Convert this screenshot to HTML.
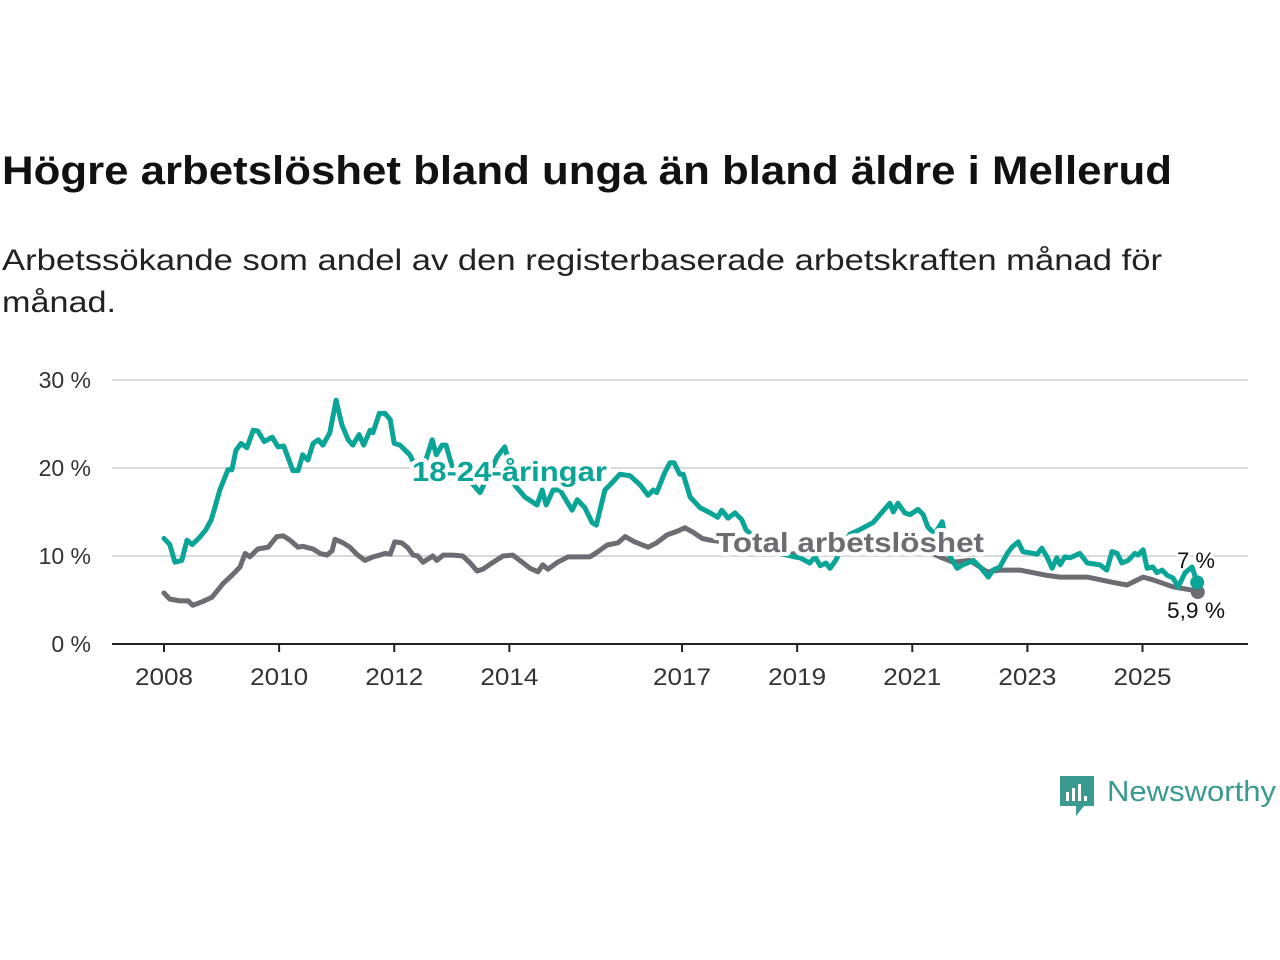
<!DOCTYPE html>
<html><head><meta charset="utf-8"><style>
html,body{margin:0;padding:0;background:#fff;width:1280px;height:960px;overflow:hidden}
svg{display:block}
text{font-family:"Liberation Sans","DejaVu Sans",sans-serif}
</style></head><body>
<svg id="chart" width="1280" height="960" viewBox="0 0 1280 960" xmlns="http://www.w3.org/2000/svg">
<text x="2" y="184" font-size="40" font-weight="bold" fill="#111" textLength="1170" lengthAdjust="spacingAndGlyphs">Högre arbetslöshet bland unga än bland äldre i Mellerud</text>
<text x="2" y="270" font-size="30" fill="#222" textLength="1160" lengthAdjust="spacingAndGlyphs">Arbetssökande som andel av den registerbaserade arbetskraften månad för</text>
<text x="2" y="312" font-size="30" fill="#222" textLength="114" lengthAdjust="spacingAndGlyphs">månad.</text>
<g id="grid"></g><g id="xaxis"></g><g id="series"></g><g id="labels"></g>
<g>
<path d="M1060 776 h34 v30 h-10 l-8 10 v-10 h-16 z" fill="#3a9a90"/>
<rect x="1066" y="792" width="3" height="9" fill="#fff"/><rect x="1072" y="788" width="3" height="13" fill="#fff"/><rect x="1078" y="784" width="3" height="17" fill="#fff"/><rect x="1084" y="796" width="3" height="5" fill="#fff"/>
<text x="1107" y="801" font-size="29" fill="#3a9a90" textLength="169" lengthAdjust="spacingAndGlyphs">Newsworthy</text>
</g>
</svg>
<script>
const yTicks=[0,10,20,30];
const yTickLabels=["0 %","10 %","20 %","30 %"];
const xTicks=[2008,2010,2012,2014,2017,2019,2021,2023,2025];
const youthDates=[2008.00,2008.10,2008.19,2008.31,2008.40,2008.49,2008.63,2008.73,2008.82,2008.87,2008.97,2009.11,2009.18,2009.25,2009.34,2009.44,2009.55,2009.63,2009.74,2009.88,2009.98,2010.08,2010.24,2010.33,2010.41,2010.50,2010.59,2010.68,2010.76,2010.88,2010.99,2011.09,2011.20,2011.28,2011.39,2011.47,2011.58,2011.63,2011.74,2011.84,2011.93,2012.00,2012.10,2012.27,2012.36,2012.53,2012.66,2012.73,2012.83,2012.90,2013.00,2013.19,2013.49,2013.66,2013.79,2013.92,2014.10,2014.27,2014.48,2014.57,2014.64,2014.76,2014.88,2014.98,2015.09,2015.18,2015.31,2015.44,2015.51,2015.66,2015.78,2015.92,2016.10,2016.27,2016.41,2016.50,2016.56,2016.70,2016.79,2016.86,2016.96,2017.02,2017.14,2017.31,2017.49,2017.62,2017.69,2017.80,2017.92,2018.04,2018.11,2018.27,2018.44,2018.70,2018.96,2019.05,2019.22,2019.31,2019.40,2019.50,2019.57,2019.67,2019.78,2019.92,2020.09,2020.32,2020.44,2020.61,2020.67,2020.75,2020.87,2020.96,2021.10,2021.19,2021.27,2021.39,2021.52,2021.59,2021.66,2021.78,2021.88,2022.06,2022.18,2022.32,2022.40,2022.52,2022.65,2022.73,2022.84,2022.92,2023.10,2023.17,2023.25,2023.34,2023.43,2023.51,2023.57,2023.65,2023.74,2023.91,2024.04,2024.26,2024.38,2024.47,2024.56,2024.64,2024.75,2024.87,2024.92,2025.01,2025.08,2025.18,2025.25,2025.34,2025.43,2025.53,2025.62,2025.74,2025.86,2025.95];
const youthValues=[12.0,11.3,9.3,9.5,11.8,11.3,12.2,13.0,14.1,15.2,17.5,19.8,19.8,22.0,22.8,22.3,24.3,24.2,23.0,23.5,22.4,22.5,19.7,19.7,21.5,20.9,22.8,23.2,22.6,24.0,27.7,24.9,23.2,22.6,23.8,22.6,24.3,24.0,26.2,26.2,25.5,22.8,22.6,21.5,20.3,20.5,23.2,21.5,22.6,22.6,20.3,19.5,17.2,19.5,21.3,22.4,18.0,16.7,15.8,17.5,15.8,17.5,17.5,16.4,15.2,16.4,15.5,13.8,13.5,17.5,18.3,19.3,19.1,18.1,16.9,17.5,17.2,19.5,20.6,20.6,19.3,19.3,16.7,15.5,14.9,14.4,15.2,14.3,14.9,14.1,13.0,12.0,10.8,10.3,9.9,9.8,9.2,9.9,8.9,9.2,8.6,9.5,11.0,12.5,13.0,13.8,14.7,16.0,15.0,16.0,14.9,14.7,15.3,14.7,13.3,12.5,13.9,11.5,9.9,8.6,9.0,9.5,8.75,7.6,8.4,8.75,10.3,11.0,11.6,10.5,10.3,10.2,10.9,9.9,8.6,9.8,9.0,9.9,9.8,10.3,9.2,9.0,8.4,10.5,10.3,9.2,9.5,10.3,10.1,10.7,8.6,8.75,8.1,8.4,7.8,7.5,6.5,8.1,8.75,7.0];
const totalDates=[2008.00,2008.10,2008.28,2008.42,2008.50,2008.66,2008.83,2009.03,2009.18,2009.32,2009.41,2009.49,2009.63,2009.81,2009.96,2010.07,2010.19,2010.33,2010.41,2010.59,2010.71,2010.83,2010.92,2010.97,2011.11,2011.23,2011.35,2011.49,2011.63,2011.75,2011.84,2011.93,2012.01,2012.13,2012.24,2012.33,2012.41,2012.50,2012.67,2012.74,2012.85,2013.02,2013.19,2013.32,2013.44,2013.54,2013.72,2013.89,2014.06,2014.24,2014.36,2014.50,2014.58,2014.67,2014.84,2015.02,2015.18,2015.40,2015.54,2015.70,2015.89,2016.01,2016.18,2016.41,2016.56,2016.74,2016.91,2017.05,2017.19,2017.35,2017.49,2017.83,2018.18,2018.53,2018.88,2019.22,2019.57,2019.92,2020.27,2020.61,2020.96,2021.31,2021.48,2021.71,2022.00,2022.30,2022.52,2022.87,2023.10,2023.34,2023.57,2024.04,2024.49,2024.73,2025.01,2025.18,2025.53,2025.88,2025.96];
const totalValues=[5.8,5.1,4.9,4.9,4.4,4.8,5.3,6.9,7.8,8.75,10.3,9.9,10.8,11.0,12.2,12.3,11.8,11.0,11.1,10.8,10.3,10.1,10.6,11.9,11.5,11.0,10.2,9.5,9.9,10.1,10.3,10.2,11.6,11.5,10.9,10.1,10.0,9.3,10.0,9.5,10.1,10.1,10.0,9.2,8.3,8.5,9.3,10.0,10.1,9.2,8.6,8.2,9.0,8.5,9.3,9.9,9.9,9.9,10.5,11.25,11.5,12.2,11.6,11.0,11.5,12.4,12.8,13.2,12.7,12.0,11.8,11.5,11.0,10.5,10.2,10.5,11.0,11.5,11.3,11.5,11.0,10.4,9.9,9.3,9.5,8.2,8.4,8.4,8.1,7.8,7.6,7.6,7.0,6.7,7.6,7.3,6.5,6.1,5.9];
const youthLast="7 %", totalLast="5,9 %";

const NS="http://www.w3.org/2000/svg";
const X0=164, PXY=57.56, Y0=644, PXV=8.8, LEFT=112, RIGHT=1248;
function xs(yr){return X0+(yr-2008)*PXY;}
function ys(v){return Y0-v*PXV;}
function mk(tag,attrs,parent){const e=document.createElementNS(NS,tag);for(const k in attrs)e.setAttribute(k,attrs[k]);parent.appendChild(e);return e;}
const grid=document.getElementById('grid'),xa=document.getElementById('xaxis'),ser=document.getElementById('series'),lab=document.getElementById('labels');
yTicks.forEach((t,i)=>{
  if(t>0){const l=mk('line',{x1:LEFT,x2:RIGHT,y1:ys(t),y2:ys(t),stroke:'#d9d9d9','stroke-width':2},grid);
  
  }
  const tx=mk('text',{x:91,y:ys(t)+8,'text-anchor':'end','font-size':23,fill:'#333'},grid);
  
  
  tx.textContent=yTickLabels[i];
});
const base=mk('line',{x1:LEFT,x2:RIGHT,y1:Y0,y2:Y0,stroke:'#222','stroke-width':2},xa);


xTicks.forEach(t=>{
  const tk=mk('line',{x1:xs(t),x2:xs(t),y1:Y0,y2:Y0+8,stroke:'#222','stroke-width':2},xa);
  
  
  const tx=mk('text',{x:xs(t),y:685,'text-anchor':'middle','font-size':24,fill:'#333',textLength:58,lengthAdjust:'spacingAndGlyphs'},xa);
  
  
  tx.textContent=t;
});
function line(d,v,color,name){
  const p=mk('path',{d:d.map((x,i)=>(i?'L':'M')+xs(x).toFixed(1)+' '+ys(v[i]).toFixed(1)).join(''),fill:'none',stroke:color,'stroke-width':5,'stroke-linejoin':'round','stroke-linecap':'round'},ser);
  
  
  const n=d.length-1;
  const c=mk('circle',{cx:xs(d[n]),cy:ys(v[n]),r:7,fill:color},ser);
  
  
}
line(totalDates,totalValues,'#6d6c72','total-line');
line(youthDates,youthValues,'#0aa596','youth-line');
function label(txt,x,y,color,size,bold,name,anchor,len){
  const a={x:x,y:y,'font-size':size,'font-weight':bold?'bold':'normal',fill:color,stroke:'#fff','stroke-width':bold?8:5,'paint-order':'stroke','stroke-linejoin':'round','text-anchor':anchor||'start'};
  if(len){a.textLength=len;a.lengthAdjust='spacingAndGlyphs';}
  const t=mk('text',a,lab);
  
  
  t.textContent=txt;
}
label('18-24-åringar',412,481,'#0aa596',28,true,'youth-series-label','start',195);
label('Total arbetslöshet',716,552,'#6d6c72',28,true,'total-series-label','start',268);
label(youthLast,1196,568,'#111',22,false,'youth-last-value','middle');
label(totalLast,1196,618,'#111',22,false,'total-last-value','middle',58);
</script>
</body></html>
